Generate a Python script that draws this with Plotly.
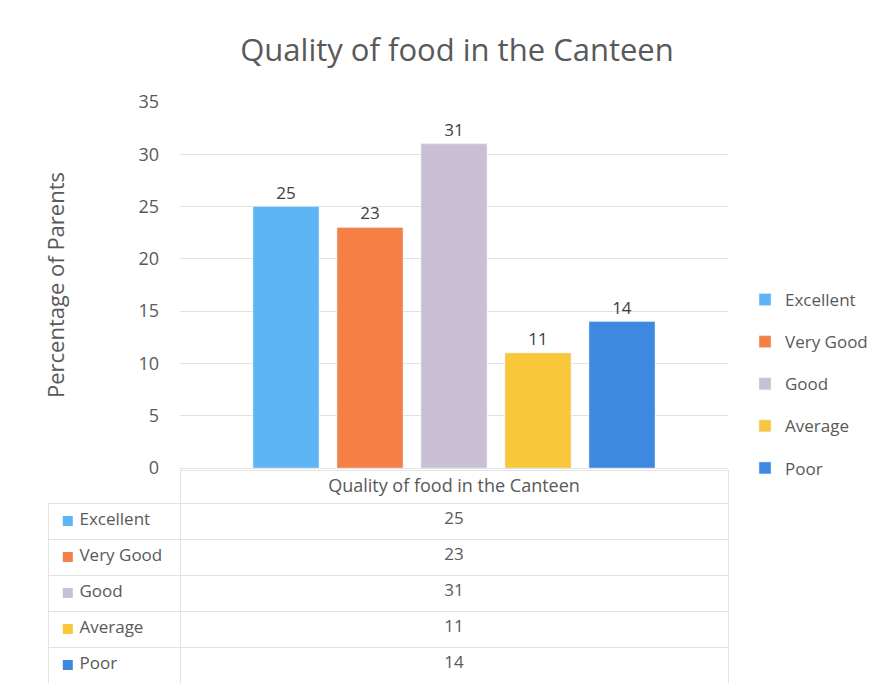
import plotly.graph_objects as go

categories = ["Excellent", "Very Good", "Good", "Average", "Poor"]
values = [25, 23, 31, 11, 14]
colors = ["#5DB5F5", "#F57F45", "#C9C0D6", "#F9C83A", "#3D88E0"]
group_label = "Quality of food in the Canteen"
y_ticks = [0, 5, 10, 15, 20, 25, 30, 35]

W, H = 891, 689
FONT = "Open Sans"
TXT = "#595959"
CLEAR = "rgba(0,0,0,0)"

fig = go.Figure()
for c, v, col in zip(categories, values, colors):
    fig.add_trace(go.Bar(
        x=[group_label], y=[v], name=c, marker_color=col,
        text=[str(v)], textposition="outside",
        textfont=dict(size=17, color="#404040", family=FONT),
        legendgroup=c, cliponaxis=False,
    ))

# data table below the chart (borders + values)
fig.add_trace(go.Table(
    domain=dict(x=[48 / W, 728 / W], y=[(H - 683) / H, (H - 470) / H]),
    columnwidth=[132, 548],
    header=dict(values=["", group_label], height=33,
                fill_color=CLEAR,
                line=dict(color=[CLEAR, "#e3e3e3"], width=1),
                align=["left", "center"],
                font=dict(size=18, color=TXT, family=FONT)),
    cells=dict(values=[[""] * len(categories), [str(v) for v in values]], height=36,
               fill_color=CLEAR,
               line=dict(color="#e3e3e3", width=1),
               align=["left", "center"],
               font=dict(size=17, color=TXT, family=FONT)),
))

# legend keys + labels in the table's first column
fig.add_trace(go.Scatter(
    x=[0] * len(categories), y=list(range(len(categories))),
    mode="markers+text", text=["\u00a0" + c for c in categories],
    textposition="middle right",
    marker=dict(symbol="square", size=10, color=colors),
    textfont=dict(size=17, color=TXT, family=FONT),
    xaxis="x2", yaxis="y2", showlegend=False, hoverinfo="skip",
    cliponaxis=False,
))

fig.update_layout(
    width=W, height=H,
    margin=dict(l=0, r=0, t=0, b=0),
    paper_bgcolor="white", plot_bgcolor="white",
    barmode="group", bargap=0.2336, bargroupgap=0.214,
    title=dict(text="Quality of food in the Canteen", x=457 / W, xanchor="center",
               y=1 - 50 / H, yanchor="middle",
               font=dict(size=31, color=TXT, family=FONT)),
    font=dict(family=FONT, color=TXT),
    xaxis=dict(domain=[180 / W, 728 / W], showticklabels=False, showgrid=False,
               showline=True, linecolor="#e3e3e3", ticks="", automargin=False),
    yaxis=dict(domain=[(H - 468) / H, (H - 102) / H], range=[0, 35],
               tickvals=y_ticks, showgrid=True, gridcolor="#e3e3e3",
               zeroline=False, ticks="", ticklabelstandoff=20, automargin=False,
               tickfont=dict(size=18, color=TXT),
               title=dict(text="Percentage of Parents", standoff=67,
                          font=dict(size=22, color=TXT))),
    xaxis2=dict(domain=[48 / W, 180 / W], range=[-0.15, 0.85], visible=False,
                fixedrange=True),
    yaxis2=dict(domain=[(H - 683) / H, (H - 503) / H], range=[4.5, -0.5],
                visible=False, fixedrange=True),
    legend=dict(x=745 / W, y=(H - 282) / H, xanchor="left", yanchor="top",
                font=dict(size=17, color=TXT), tracegroupgap=17,
                itemwidth=30),
    showlegend=True,
)

fig.write_html("out.html", config={"displayModeBar": False},
               post_script="document.body.style.margin='0';")
